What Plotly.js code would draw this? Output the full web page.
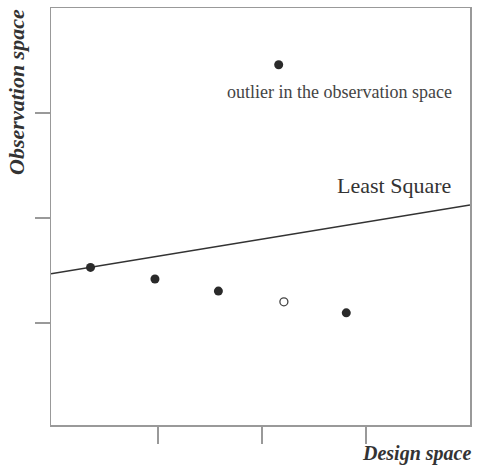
<!DOCTYPE html>
<html><head><meta charset="utf-8">
<script src="https://cdn.plot.ly/plotly-3.0.1.min.js"></script>
<style>html,body{margin:0;padding:0;background:#fff}</style>
</head><body>
<div id="chart" style="width:482px;height:467px"></div>
<script>
// Observations (filled)
const obsX = [0.35, 0.97, 1.58, 2.81];
const obsY = [1.53, 1.42, 1.305, 1.098];
// Open point
const openX = [2.21];
const openY = [1.203];
// Outlier in observation space
const outX = [2.16];
const outY = [3.46];
// Least-square fit line endpoints
const lsX = [-0.03, 4.0];
const lsY = [1.47, 2.124];
const xTicks = [1, 2, 3];
const yTicks = [1, 2, 3];

const serif = "Liberation Serif, Times New Roman, serif";
const data = [
  {x: lsX, y: lsY, mode: 'lines', line: {color: '#333', width: 1.6}, hoverinfo: 'skip'},
  {x: obsX, y: obsY, mode: 'markers', marker: {color: '#2a2a2a', size: 9}},
  {x: openX, y: openY, mode: 'markers', marker: {color: '#fff', size: 8, line: {color: '#444', width: 1.3}}},
  {x: outX, y: outY, mode: 'markers', marker: {color: '#2a2a2a', size: 9}}
];
const axBase = {
  showgrid: false, zeroline: false, showticklabels: false,
  showline: true, mirror: true, linecolor: '#999', linewidth: 1.5,
  ticks: 'outside', tickcolor: '#999', tickwidth: 1.5, tickmode: 'array'
};
const layout = {
  width: 482, height: 467,
  margin: {l: 51, r: 12, t: 8, b: 42},
  paper_bgcolor: '#fff', plot_bgcolor: '#fff',
  showlegend: false,
  xaxis: Object.assign({}, axBase, {range: [-0.03, 4.0], tickvals: xTicks, ticklen: 17}),
  yaxis: Object.assign({}, axBase, {range: [0.03, 4.0], tickvals: yTicks, ticklen: 15}),
  annotations: [
    {x: 2.74, y: 3.2, xref: 'x', yref: 'y', xanchor: 'center', yanchor: 'middle',
     text: 'outlier in the observation space', showarrow: false,
     font: {family: serif, size: 18, color: '#444'}},
    {x: 3.27, y: 2.31, xref: 'x', yref: 'y', xanchor: 'center', yanchor: 'middle',
     text: 'Least Square', showarrow: false,
     font: {family: serif, size: 22, color: '#333'}},
    {x: -0.081, y: 0.799, xref: 'paper', yref: 'paper', xanchor: 'center', yanchor: 'middle',
     text: '<b><i>Observation space</i></b>', showarrow: false,
     textangle: -90, font: {family: serif, size: 22, color: '#333'}},
    {x: 0.872, y: -0.068, xref: 'paper', yref: 'paper', xanchor: 'center', yanchor: 'middle',
     text: '<b><i>Design space</i></b>', showarrow: false,
     font: {family: serif, size: 20, color: '#333'}}
  ]
};
Plotly.newPlot('chart', data, layout, {displayModeBar: false, staticPlot: true});
</script>
</body></html>
